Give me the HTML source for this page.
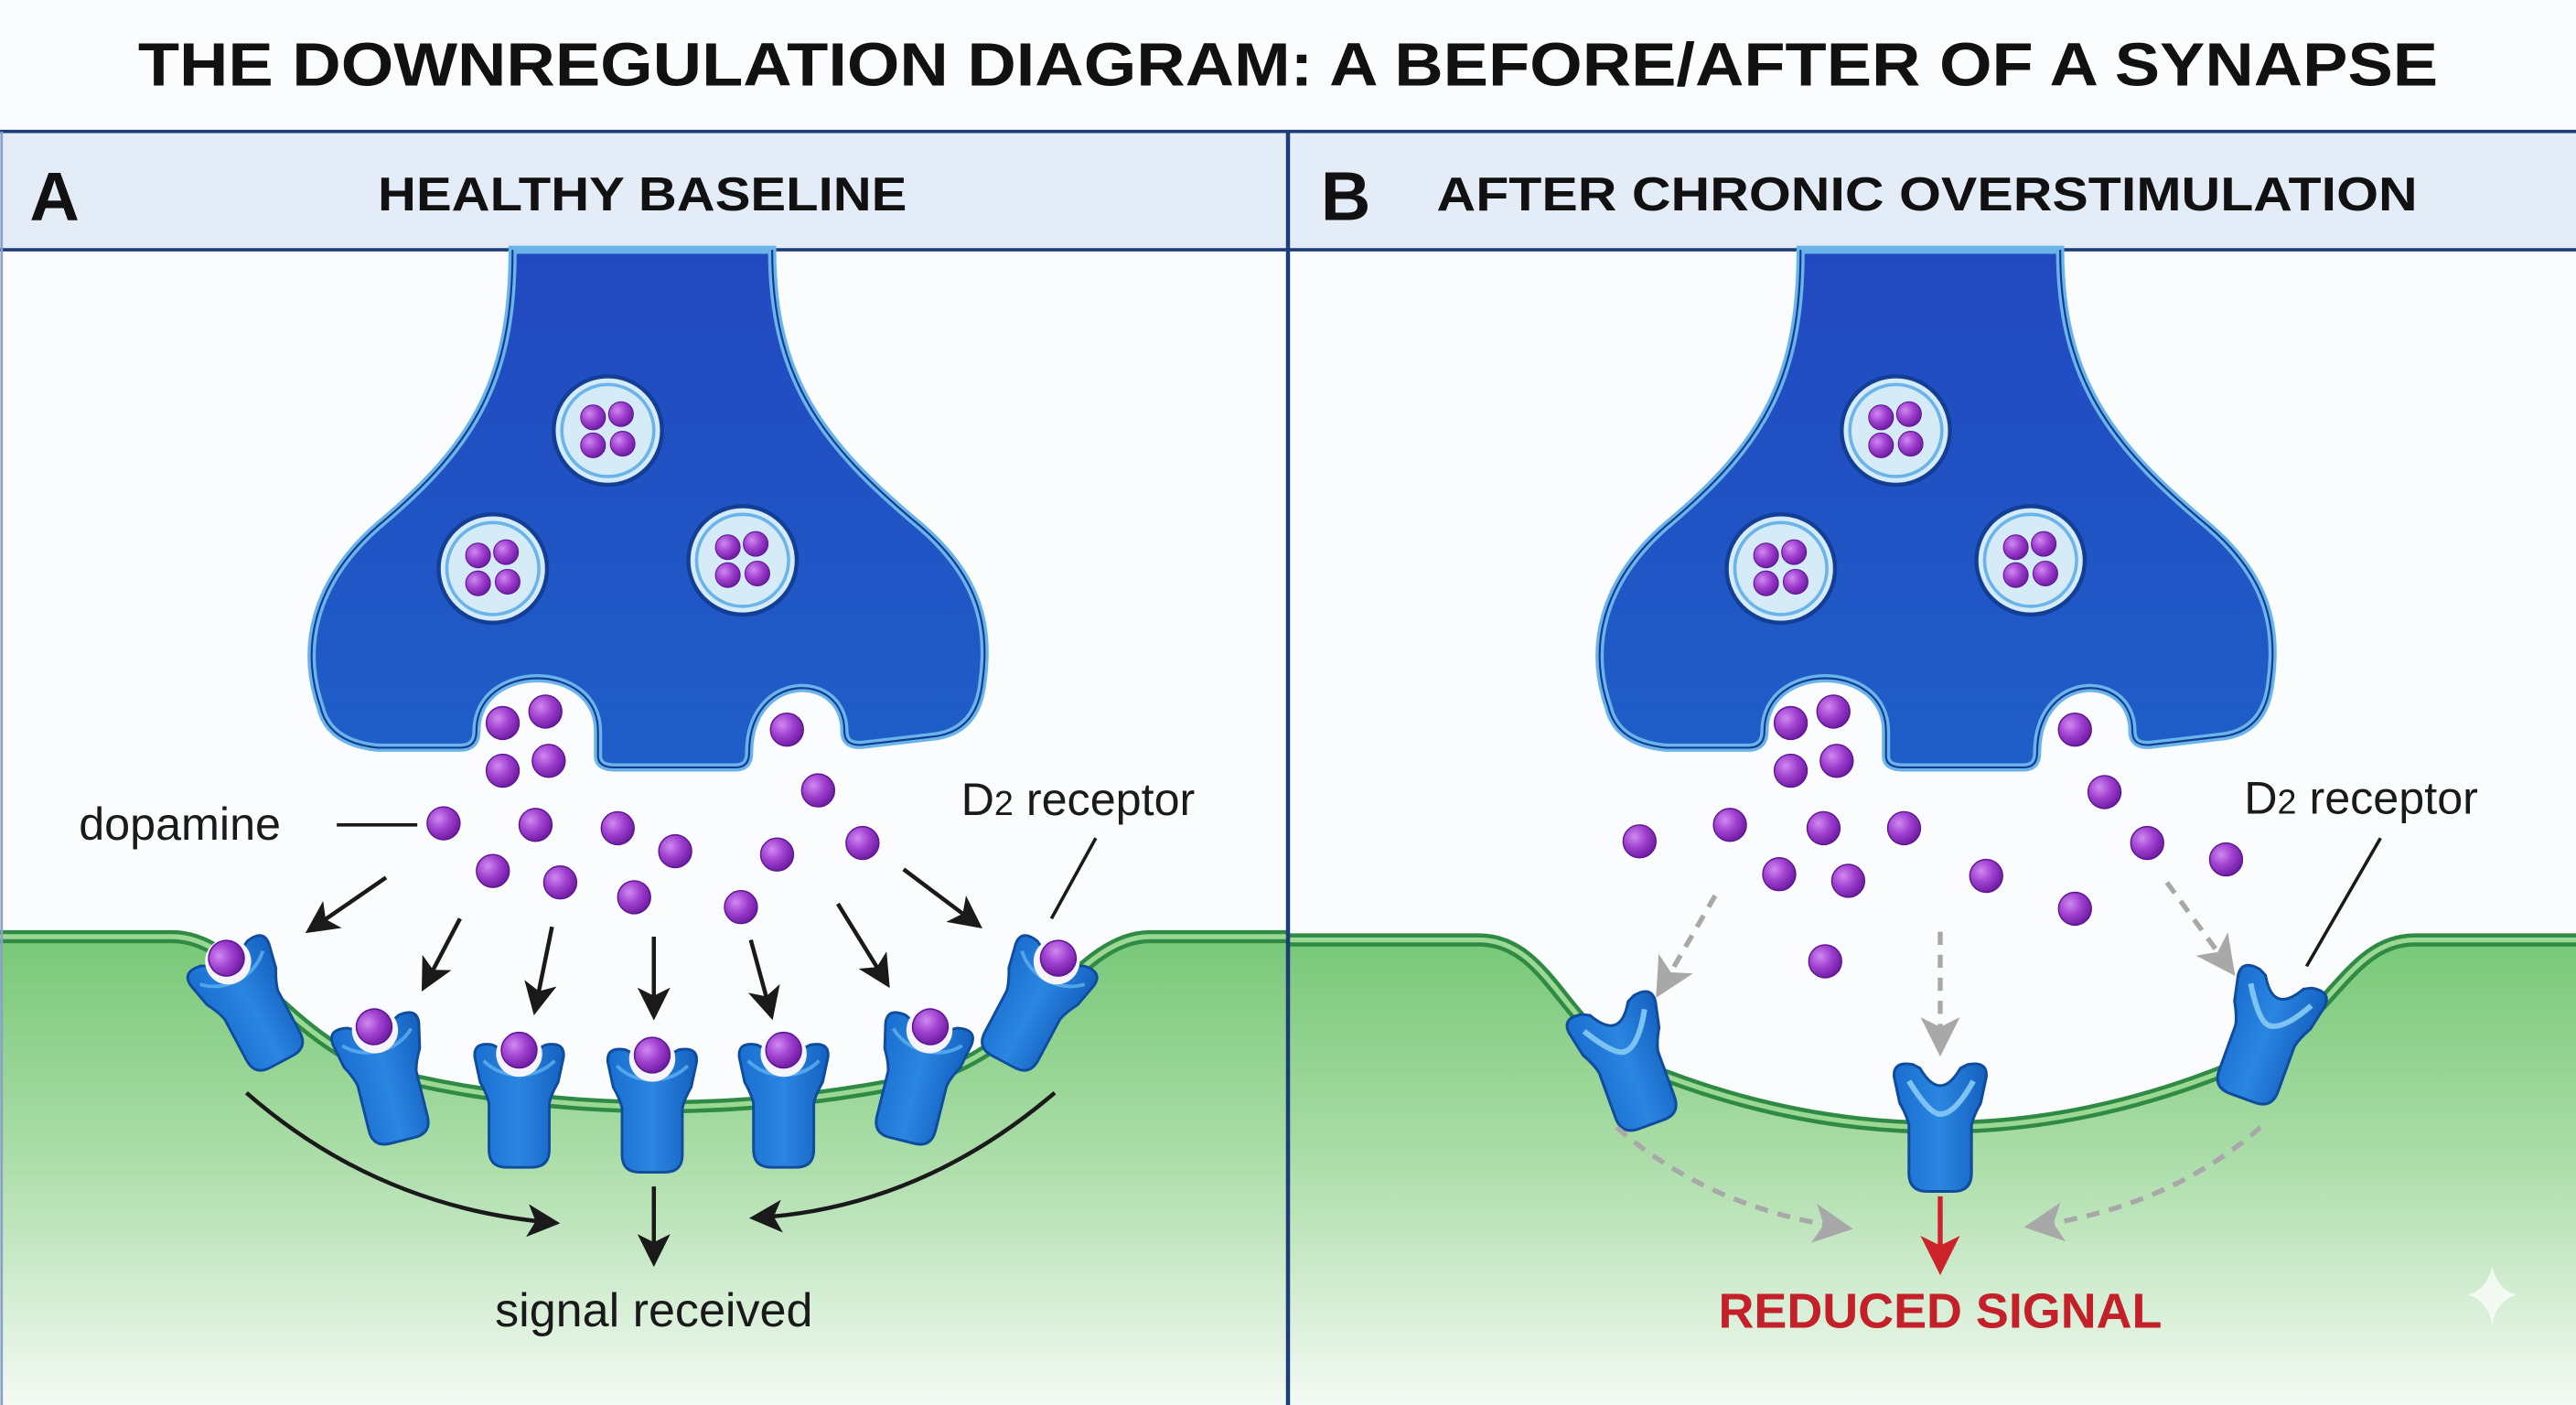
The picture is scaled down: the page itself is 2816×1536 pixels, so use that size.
<!DOCTYPE html>
<html><head><meta charset="utf-8"><style>
html,body{margin:0;padding:0;background:#fafcfd;}
svg{display:block;}
text{font-family:"Liberation Sans","DejaVu Sans",sans-serif;}
</style></head><body>
<svg width="2816" height="1536" viewBox="0 0 1568 855" preserveAspectRatio="none" xmlns="http://www.w3.org/2000/svg">
<defs>
<linearGradient id="gr" x1="0" y1="0" x2="0" y2="1">
<stop offset="0" stop-color="#78c878"/><stop offset="0.45" stop-color="#a9dca6"/><stop offset="1" stop-color="#f4faf4"/>
</linearGradient>
<linearGradient id="nb" x1="0" y1="0" x2="0" y2="1">
<stop offset="0" stop-color="#2248c0"/><stop offset="1" stop-color="#1f5ec8"/>
</linearGradient>
<radialGradient id="pd" cx="0.35" cy="0.35" r="0.7">
<stop offset="0" stop-color="#d08af0"/><stop offset="0.5" stop-color="#a040d0"/><stop offset="1" stop-color="#6c1aa0"/>
</radialGradient>
<linearGradient id="rc" x1="0" y1="0" x2="1" y2="0">
<stop offset="0" stop-color="#1a6ed0"/><stop offset="0.5" stop-color="#2a86e0"/><stop offset="1" stop-color="#1560c0"/>
</linearGradient>
<marker id="ak" markerWidth="8" markerHeight="8" refX="6" refY="4" orient="auto" markerUnits="strokeWidth"><path d="M0,0 L8,4 L0,8 L2,4 Z" fill="#1a1a1a"/></marker>
<marker id="ag" markerWidth="8" markerHeight="8" refX="6" refY="4" orient="auto" markerUnits="strokeWidth"><path d="M0,0 L8,4 L0,8 L2,4 Z" fill="#a8a8a8"/></marker>
<marker id="ar" markerWidth="8" markerHeight="8" refX="6" refY="4" orient="auto" markerUnits="strokeWidth"><path d="M0,0 L8,4 L0,8 L2,4 Z" fill="#cc2229"/></marker>
<g id="dot"><circle r="10" fill="url(#pd)" stroke="#5c1790" stroke-width="0.8"/></g>
<g id="sdot"><circle r="7.5" fill="url(#pd)" stroke="#5c1790" stroke-width="0.6"/></g>
<g id="ves"><circle r="33" fill="#d5ebf7" stroke="#123f95" stroke-width="2.5"/><circle r="28" fill="none" stroke="#6ab4ea" stroke-width="2"/>
<use href="#sdot" x="-9" y="-8"/><use href="#sdot" x="8" y="-10"/><use href="#sdot" x="-9" y="9"/><use href="#sdot" x="9" y="8"/></g>
<g id="rcp"><path d="M-25,-20 Q-26,-29 -15,-27 L-11,-25 A11,11 0 0 0 11,-25 L15,-27 Q26,-29 25,-20 L22,-6 Q18,1 17,6 L17,32 Q17,42 7,42 L-7,42 Q-17,42 -17,32 L-17,6 Q-18,1 -22,-6 Z" fill="url(#rc)" stroke="#0f4c9c" stroke-width="1.5"/>
<path d="M-20,-18 Q-12,-10 0,-10 Q12,-10 20,-18" fill="none" stroke="#5fb2f0" stroke-width="2" opacity="0.8"/></g>
<g id="rcpB"><path d="M-25,-20 Q-26,-29 -15,-27 L-11,-25 Q0,-6 11,-25 L15,-27 Q26,-29 25,-20 L22,-6 Q18,1 17,6 L17,32 Q17,42 7,42 L-7,42 Q-17,42 -17,32 L-17,6 Q-18,1 -22,-6 Z" fill="url(#rc)" stroke="#0f4c9c" stroke-width="1.5"/>
<path d="M-17,-18 Q-6,0 0,0 Q8,0 18,-18" fill="none" stroke="#7cc3f2" stroke-width="3"/></g>
<g id="rcpd"><use href="#rcp"/><circle cx="0" cy="-22" r="13" fill="#f4f4fa"/><use href="#dot" x="0" y="-24"/></g>
<g id="neuron">
<path d="M312,152 C312,230 290,270 230,320 C190,355 183,395 195,430 Q200,452 230,455 L280,455 Q290,455 290,445 C290,402 364,402 364,445 L364,460 Q364,467 374,467 L448,467 Q456,467 456,458 C456,408 514,408 514,445 Q514,455 527,453 L570,448 Q595,444 598,415 C603,380 595,350 560,320 C500,270 470,230 470,152 Z" fill="url(#nb)" stroke="#6ab4ea" stroke-width="5"/>
<path d="M312,152 C312,230 290,270 230,320 C190,355 183,395 195,430 Q200,452 230,455 L280,455 Q290,455 290,445 C290,402 364,402 364,445 L364,460 Q364,467 374,467 L448,467 Q456,467 456,458 C456,408 514,408 514,445 Q514,455 527,453 L570,448 Q595,444 598,415 C603,380 595,350 560,320 C500,270 470,230 470,152" fill="none" stroke="#113c92" stroke-width="1.2"/>
<use href="#ves" x="370" y="262"/><use href="#ves" x="300" y="346"/><use href="#ves" x="452" y="341"/>
<use href="#dot" x="306" y="440"/><use href="#dot" x="332" y="433"/><use href="#dot" x="306" y="469"/><use href="#dot" x="334" y="463"/><use href="#dot" x="479" y="444"/>
</g>
</defs>

<rect width="1568" height="855" fill="#fafcfd"/>

<path d="M0,570 L105,570 C150,570 175,640 250,657 Q400,690 560,657 C630,640 655,570 700,570 L784,570 L784,855 L0,855 Z" fill="url(#gr)"/>
<path d="M0,570 L105,570 C150,570 175,640 250,657 Q400,690 560,657 C630,640 655,570 700,570 L784,570" fill="none" stroke="#2f8a44" stroke-width="8"/>
<path d="M0,570 L105,570 C150,570 175,640 250,657 Q400,690 560,657 C630,640 655,570 700,570 L784,570" fill="none" stroke="#9ad894" stroke-width="3"/>

<path d="M784,572 L900,572 C940,572 950,620 990,645 Q1180,727 1370,645 C1420,620 1430,572 1470,572 L1568,572 L1568,855 L784,855 Z" fill="url(#gr)"/>
<path d="M784,572 L900,572 C940,572 950,620 990,645 Q1180,727 1370,645 C1420,620 1430,572 1470,572 L1568,572" fill="none" stroke="#2f8a44" stroke-width="8"/>
<path d="M784,572 L900,572 C940,572 950,620 990,645 Q1180,727 1370,645 C1420,620 1430,572 1470,572 L1568,572" fill="none" stroke="#9ad894" stroke-width="3"/>

<text x="784" y="52" text-anchor="middle" font-size="37" font-weight="bold" fill="#111" textLength="1400" lengthAdjust="spacingAndGlyphs">THE DOWNREGULATION DIAGRAM: A BEFORE/AFTER OF A SYNAPSE</text>
<rect x="0" y="80" width="1568" height="72" fill="#e4ecf8"/>
<line x1="0" y1="80" x2="1568" y2="80" stroke="#1d3d7a" stroke-width="2"/>
<line x1="0" y1="152" x2="1568" y2="152" stroke="#1d3d7a" stroke-width="2"/>
<line x1="784" y1="80" x2="784" y2="855" stroke="#1d3d7a" stroke-width="2.5"/>
<line x1="1" y1="80" x2="1" y2="855" stroke="#8aa0c8" stroke-width="1.5"/>
<text x="18" y="134" font-size="42" font-weight="bold" fill="#111">A</text>
<text x="391" y="128" text-anchor="middle" font-size="29" font-weight="bold" fill="#111" textLength="322" lengthAdjust="spacingAndGlyphs">HEALTHY BASELINE</text>
<text x="804" y="134" font-size="42" font-weight="bold" fill="#111">B</text>
<text x="1173" y="128" text-anchor="middle" font-size="29" font-weight="bold" fill="#111" textLength="597" lengthAdjust="spacingAndGlyphs">AFTER CHRONIC OVERSTIMULATION</text>

<use href="#neuron"/>
<use href="#neuron" x="784"/>

<use href="#dot" x="270" y="501"/><use href="#dot" x="326" y="502"/><use href="#dot" x="376" y="504"/><use href="#dot" x="411" y="518"/>
<use href="#dot" x="498" y="481"/><use href="#dot" x="473" y="520"/><use href="#dot" x="525" y="513"/><use href="#dot" x="300" y="530"/>
<use href="#dot" x="341" y="537"/><use href="#dot" x="386" y="546"/><use href="#dot" x="451" y="552"/>

<use href="#rcpd" transform="translate(150,606) rotate(-28) scale(1.08)"/>
<use href="#rcpd" transform="translate(234,650) rotate(-14) scale(1.08)"/>
<use href="#rcpd" transform="translate(316,665) scale(1.08)"/>
<use href="#rcpd" transform="translate(397,668) scale(1.08)"/>
<use href="#rcpd" transform="translate(477,665) scale(1.08)"/>
<use href="#rcpd" transform="translate(560,650) rotate(14) scale(1.08)"/>
<use href="#rcpd" transform="translate(632,606) rotate(28) scale(1.08)"/>

<g stroke="#1a1a1a" stroke-width="2.5" fill="none" marker-end="url(#ak)">
<line x1="235" y1="534" x2="190" y2="565"/>
<line x1="280" y1="559" x2="259" y2="599"/>
<line x1="336" y1="564" x2="326" y2="613"/>
<line x1="398" y1="570" x2="398" y2="616"/>
<line x1="457" y1="572" x2="469" y2="616"/>
<line x1="510" y1="550" x2="539" y2="597"/>
<line x1="550" y1="529" x2="594" y2="562"/>
<path d="M150,665 Q230,735 336,744"/>
<path d="M642,665 Q560,735 461,741"/>
<line x1="398" y1="722" x2="398" y2="766"/>
</g>
<text x="48" y="511" font-size="28" fill="#1a1a1a">dopamine</text>
<line x1="205" y1="502" x2="254" y2="502" stroke="#1a1a1a" stroke-width="2"/>
<text x="585" y="496" font-size="28" fill="#1a1a1a">D<tspan font-size="21">2</tspan> receptor</text>
<line x1="667" y1="510" x2="640" y2="559" stroke="#1a1a1a" stroke-width="2"/>
<text x="398" y="807" text-anchor="middle" font-size="29" fill="#1a1a1a">signal received</text>

<use href="#dot" x="998" y="512"/><use href="#dot" x="1053" y="502"/><use href="#dot" x="1110" y="504"/><use href="#dot" x="1159" y="504"/>
<use href="#dot" x="1281" y="482"/><use href="#dot" x="1307" y="513"/><use href="#dot" x="1355" y="523"/><use href="#dot" x="1083" y="532"/>
<use href="#dot" x="1125" y="536"/><use href="#dot" x="1209" y="533"/><use href="#dot" x="1263" y="553"/><use href="#dot" x="1111" y="585"/>

<use href="#rcpB" transform="translate(989,640) rotate(-20) scale(1.12)"/>
<use href="#rcpB" transform="translate(1181,678) scale(1.12)"/>
<use href="#rcpB" transform="translate(1381,624) rotate(20) scale(1.12)"/>

<g stroke="#a8a8a8" stroke-width="3" fill="none" stroke-dasharray="8,6" marker-end="url(#ag)">
<line x1="1044" y1="545" x2="1011" y2="602"/>
<line x1="1181" y1="567" x2="1181" y2="637"/>
<line x1="1319" y1="537" x2="1357" y2="589"/>
<path d="M984,686 Q1040,735 1122,747"/>
<path d="M1376,686 Q1320,735 1238,746"/>
</g>
<line x1="1181" y1="728" x2="1181" y2="770" stroke="#cc2229" stroke-width="3" marker-end="url(#ar)"/>
<text x="1181" y="808" text-anchor="middle" font-size="30" font-weight="bold" fill="#c4202a" textLength="270" lengthAdjust="spacingAndGlyphs">REDUCED SIGNAL</text>
<text x="1366" y="495" font-size="28" fill="#1a1a1a">D<tspan font-size="21">2</tspan> receptor</text>
<line x1="1449" y1="510" x2="1404" y2="588" stroke="#1a1a1a" stroke-width="2"/>
<path d="M1517,770 Q1520,785 1532,788 Q1520,791 1517,806 Q1514,791 1502,788 Q1514,785 1517,770 Z" fill="#ffffff" opacity="0.7"/>
</svg>
</body></html>
